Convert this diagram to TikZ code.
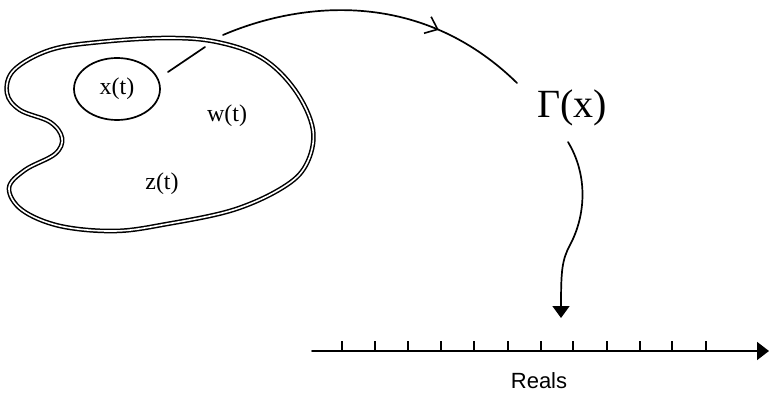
\documentclass[tikz,border=0pt]{standalone}
\usepackage{fontspec}
\setmainfont{Liberation Serif}
\setsansfont{Liberation Sans}
\usetikzlibrary{shapes.geometric,arrows.meta,decorations.markings}
\begin{document}
\begin{tikzpicture}[x=1pt,y=-1pt,
  ln/.style={line width=1.7pt,line cap=round},
  blob/.style={double,line width=1.5pt,double distance=1.6pt},
  lbl/.style={font=\fontsize{24}{26}\selectfont,inner sep=0pt},
  midarrow/.style={postaction={decorate},decoration={markings,
     mark=at position #1 with {\arrow[line width=1.6pt]{Straight Barb[length=11pt,width=18pt]}}}}]
\useasboundingbox (0,0) rectangle (770,395);
% blob
\draw[blob] plot[smooth cycle,tension=0.6] coordinates{
 (7,93) (14,70) (50,50) (100,42) (167,38) (217,42) (262,58) (295,90) (313,130)
 (306,165) (282,188) (233,210) (167,224) (115,231) (60,226) (22,210) (9,188)
 (25,170) (55,154) (62,138) (50,122) (20,110)};
\node[draw,ln,ellipse,minimum width=86pt,minimum height=62pt,lbl] (xset) at (117,89) {x(t)};
\node[lbl] (w) at (227,116) {w(t)};
\node[lbl] (z) at (162,184) {z(t)};
\node[inner sep=0pt,font=\fontsize{40}{42}\selectfont] (Gamma) at (572,108) {Γ(x)};
% connector x -> Gamma
\coordinate (c1) at (168,72);
\coordinate (c2) at (205,47);
\coordinate (c3) at (223,35);
\coordinate (c4) at (517,83);
\draw[ln] (c1) -- (c2);
\draw[ln,midarrow=0.70] (c3) .. controls (300,2) and (420,-12) .. (c4);
% Gamma -> axis
\coordinate (g1) at (568,142);
\coordinate (g2) at (561,318);
\draw[ln,-{Triangle[length=12pt,width=17pt]}] (g1) .. controls (588,175) and (586,215) .. (570,245)
  .. controls (562,260) and (561,270) .. (g2);
% axis
\coordinate (a0) at (312,351);
\coordinate (a1) at (769,351);
\draw[ln,-{Triangle[length=12pt,width=18pt]}] (a0) -- (a1);
\foreach \x in {342,375,408,441,474,508,541,573,607,640,672,706}
  \draw[line width=1.3pt] (\x,351) -- (\x,341);
\node[font=\sffamily\fontsize{22}{24}\selectfont,inner sep=0pt] (reals) at (539,381) {Reals};
\end{tikzpicture}
\end{document}
